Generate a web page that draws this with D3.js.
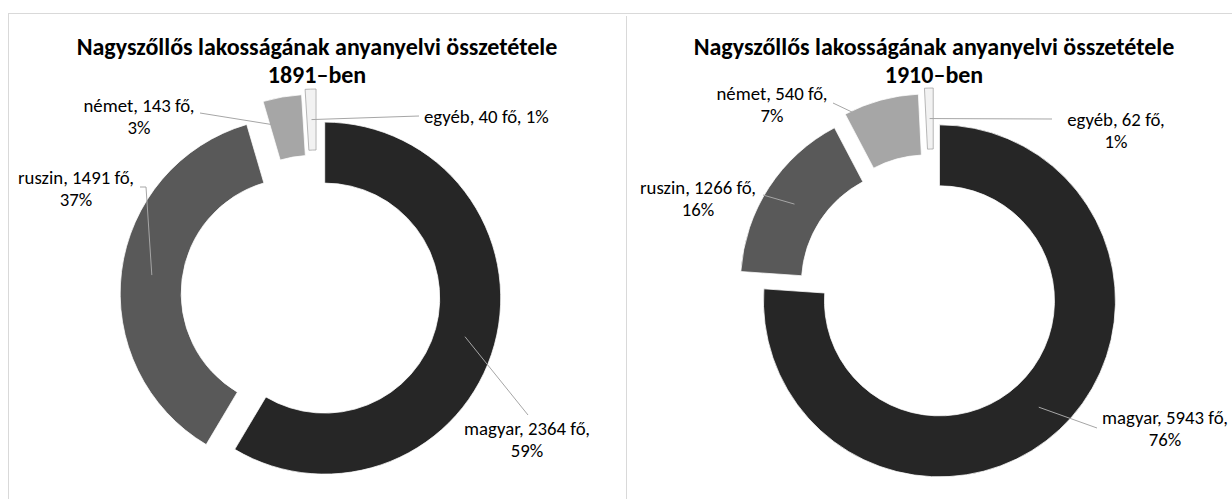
<!DOCTYPE html>
<html>
<head>
<meta charset="utf-8">
<script src="https://cdn.jsdelivr.net/npm/d3@7"></script>
<style>
  body { margin: 0; background: #fff; }
  svg { display: block; }
  text { font-family: Carlito, Calibri, Lato, sans-serif; fill: #000; }
</style>
</head>
<body>
<svg id="chart" width="1232" height="499"></svg>
<script>
const categories = ["magyar", "ruszin", "német", "egyéb"];
const years = ["1891", "1910"];
const values1891 = [2364, 1491, 143, 40];
const values1910 = [5943, 1266, 540, 62];
const percents1891 = ["59%", "37%", "3%", "1%"];
const percents1910 = ["76%", "16%", "7%", "1%"];
const titleText = "Nagyszőllős lakosságának anyanyelvi összetétele";

const colors = ["#262626", "#595959", "#a6a6a6", "#f2f2f2"];
const strokes = ["#ffffff", "#ffffff", "#ffffff", "#a0a0a0"];
const explode = [8, 21, 26, 31];

const svg = d3.select("#chart");
const width = 1232, height = 499;
const outerR = 176, innerR = 115;
const lineH = 22;

// panel frames
const frame = svg.append("g").attr("stroke", "#d9d9d9").attr("fill", "none");
frame.append("line").attr("x1", 8).attr("x2", width).attr("y1", 13.5).attr("y2", 13.5);
frame.append("line").attr("x1", 8.5).attr("x2", 8.5).attr("y1", 13).attr("y2", height);
frame.append("line").attr("x1", 626.5).attr("x2", 626.5).attr("y1", 16).attr("y2", height);

// label boxes: x,y = centre of first line; from = where the leader leaves the label
const layouts = [
  {
    cx: 317, cy: 296, titleY: [46, 74],
    labels: [
      { x: 527, y: 428, lines: 2, from: [528, 415] },
      { x: 76, y: 177, lines: 2, from: [140, 187], elbow: 6 },
      { x: 139, y: 105, lines: 2, from: [200, 113] },
      { x: 424, y: 116, lines: 1, anchor: "start", from: [419, 116] }
    ]
  },
  {
    cx: 934, cy: 295, titleY: [46, 74],
    labels: [
      { x: 1165, y: 417, lines: 2, from: [1097, 428] },
      { x: 698, y: 187, lines: 2, from: [763, 195] },
      { x: 772, y: 93, lines: 2, from: [833, 103] },
      { x: 1116, y: 119, lines: 2, from: [1052, 119] }
    ]
  }
];

const pie = d3.pie().sort(null).value(d => d);
const arc = d3.arc().innerRadius(innerR).outerRadius(outerR);

function drawDonut(values, percents, year, layout) {
  const g = svg.append("g");

  g.append("text")
    .attr("x", layout.cx).attr("y", layout.titleY[0])
    .attr("text-anchor", "middle").attr("dominant-baseline", "central")
    .attr("font-size", "24px").attr("font-weight", "bold")
    .text(titleText);
  g.append("text")
    .attr("x", layout.cx).attr("y", layout.titleY[1])
    .attr("text-anchor", "middle").attr("dominant-baseline", "central")
    .attr("font-size", "24px").attr("font-weight", "bold")
    .text(year + "–ben");

  const slices = pie(values);
  const offset = (d, i) => {
    const mid = (d.startAngle + d.endAngle) / 2;
    return [explode[i] * Math.sin(mid), -explode[i] * Math.cos(mid)];
  };

  const donut = g.append("g").attr("transform", `translate(${layout.cx},${layout.cy})`);
  donut.selectAll("path")
    .data(slices)
    .enter()
    .append("path")
    .attr("d", arc)
    .attr("transform", (d, i) => `translate(${offset(d, i)})`)
    .attr("fill", (d, i) => colors[i])
    .attr("stroke", (d, i) => strokes[i])
    .attr("stroke-width", 0.75);

  // leader lines to slice centroids
  slices.forEach((d, i) => {
    const lab = layout.labels[i];
    const c = arc.centroid(d);
    const o = offset(d, i);
    const end = [layout.cx + c[0] + o[0], layout.cy + c[1] + o[1]];
    const pts = [lab.from];
    if (lab.elbow) pts.push([lab.from[0] + lab.elbow, lab.from[1]]);
    pts.push(end);
    g.append("path")
      .attr("d", d3.line()(pts))
      .attr("fill", "none")
      .attr("stroke", "#a6a6a6")
      .attr("stroke-width", 1);
  });

  // data labels
  slices.forEach((d, i) => {
    const lab = layout.labels[i];
    const first = `${categories[i]}, ${values[i]} fő,`;
    const lines = lab.lines === 1 ? [first + " " + percents[i]] : [first, percents[i]];
    const t = g.append("text")
      .attr("text-anchor", lab.anchor || "middle")
      .attr("font-size", "18.8px");
    lines.forEach((s, k) => {
      t.append("tspan")
        .attr("x", lab.x)
        .attr("y", lab.y + k * lineH)
        .attr("dominant-baseline", "central")
        .text(s);
    });
  });
}

drawDonut(values1891, percents1891, years[0], layouts[0]);
drawDonut(values1910, percents1910, years[1], layouts[1]);
</script>
</body>
</html>
